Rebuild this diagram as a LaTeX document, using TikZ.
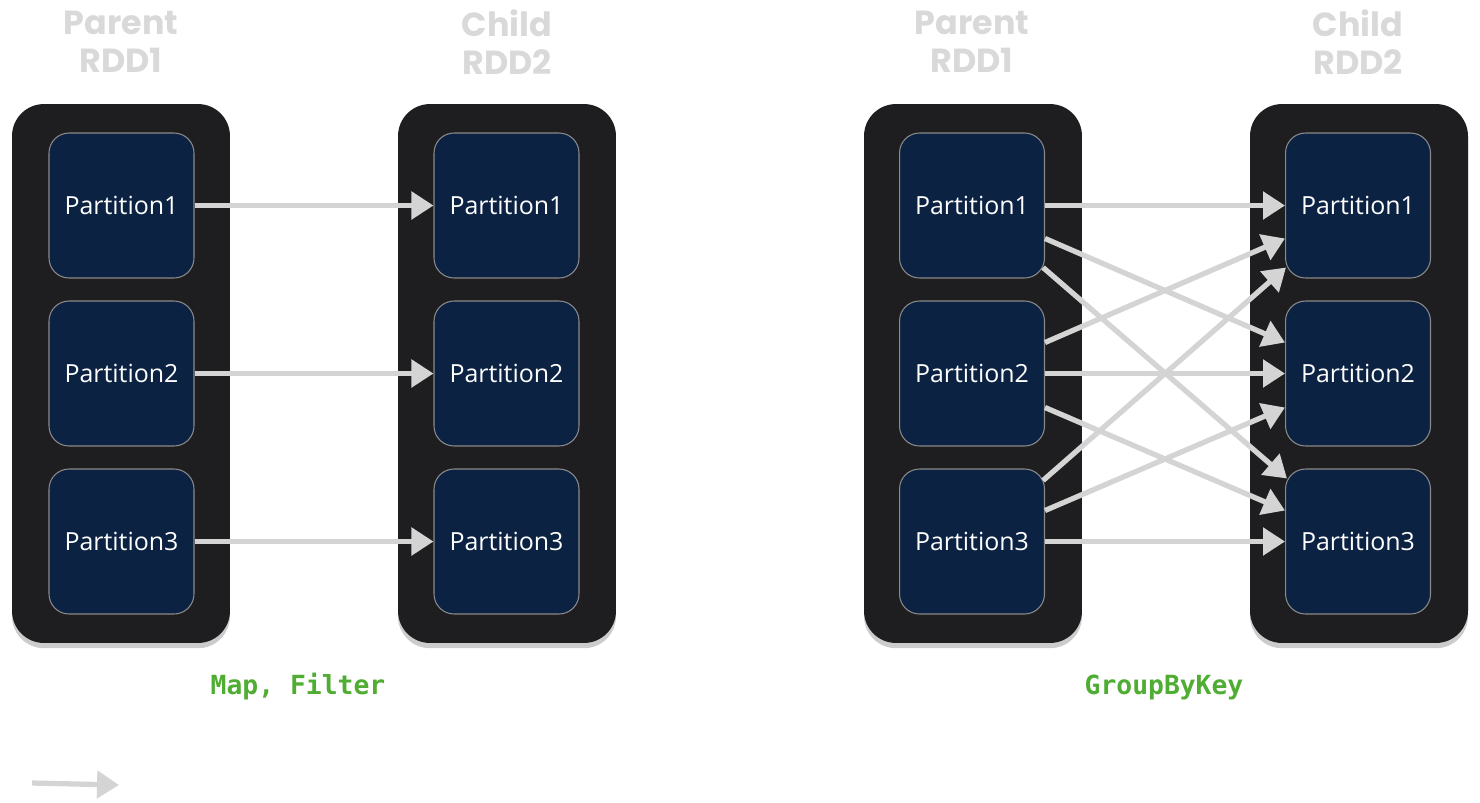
\documentclass[tikz,border=0pt]{standalone}
\usepackage{fontspec}
\setmainfont{Open Sans}
\newfontfamily\headfont{Poppins}
\setmonofont{DejaVu Sans Mono}
\usetikzlibrary{arrows.meta,shadows}
\definecolor{rddbox}{HTML}{1E1E20}
\definecolor{partfill}{HTML}{0C2242}
\definecolor{partline}{HTML}{8A8A8A}
\definecolor{flow}{HTML}{D4D4D4}
\definecolor{headgray}{HTML}{D9D9D9}
\definecolor{opgreen}{HTML}{4FAD33}
\tikzset{
  rdd/.style={fill=rddbox,rounded corners=0.64cm,minimum width=4.36cm,minimum height=10.78cm,inner sep=0pt,
    drop shadow={opacity=0.4,shadow xshift=0pt,shadow yshift=-3pt}},
  part/.style={fill=partfill,draw=partline,line width=0.6pt,rounded corners=0.4cm,minimum width=2.9cm,minimum height=2.9cm,inner sep=0pt,
    text=white,font=\fontsize{14.2}{16}\selectfont},
  head/.style={text=headgray,font=\headfont\bfseries\fontsize{19}{21.5}\selectfont,align=center},
  op/.style={text=opgreen,font=\ttfamily\bfseries\fontsize{15}{17}\selectfont},
  dep/.style={draw=flow,line width=3pt,-{Triangle[length=0.44cm,width=0.54cm]}}
}

\begin{document}
\begin{tikzpicture}[x=0.02cm,y=-0.02cm]
\useasboundingbox (0,0) rectangle (1480,802);

% narrow dependency
\node[head] (hpl) at (121,42) {Parent\\RDD1};
\node[head] (hcl) at (507,42) {Child\\RDD2};
\node[rdd] (rpl) at (121,373.5) {};
\node[rdd] (rcl) at (507,373.5) {};
\node[part] (pl1) at (121.5,205.5) {Partition1};
\node[part] (pl2) at (121.5,373.5) {Partition2};
\node[part] (pl3) at (121.5,541.5) {Partition3};
\node[part] (cl1) at (506.5,205.5) {Partition1};
\node[part] (cl2) at (506.5,373.5) {Partition2};
\node[part] (cl3) at (506.5,541.5) {Partition3};
\draw[dep] (pl1.east) -- (cl1.west);
\draw[dep] (pl2.east) -- (cl2.west);
\draw[dep] (pl3.east) -- (cl3.west);
\node[op] (opl) at (298,687) {Map, Filter};

% wide dependency
\node[head] (hpr) at (972,42) {Parent\\RDD1};
\node[head] (hcr) at (1358,42) {Child\\RDD2};
\node[rdd] (rpr) at (973,373.5) {};
\node[rdd] (rcr) at (1359,373.5) {};
\node[part] (pr1) at (972,205.5) {Partition1};
\node[part] (pr2) at (972,373.5) {Partition2};
\node[part] (pr3) at (972,541.5) {Partition3};
\node[part] (cr1) at (1358,205.5) {Partition1};
\node[part] (cr2) at (1358,373.5) {Partition2};
\node[part] (cr3) at (1358,541.5) {Partition3};

\draw[dep] (pr1.east) -- (cr1.west);
\draw[dep] ([yshift=-0.66cm]pr1.east) -- ([yshift=0.62cm]cr2.west);
\draw[dep] ([shift={(-2,62)}]pr1.east) -- ([shift={(2,-63)}]cr3.west);

\draw[dep] ([yshift=0.62cm]pr2.east) -- ([yshift=-0.66cm]cr1.west);
\draw[dep] (pr2.east) -- (cr2.west);
\draw[dep] ([yshift=-0.68cm]pr2.east) -- ([yshift=0.62cm]cr3.west);

\draw[dep] ([shift={(-2,-61)}]pr3.east) -- ([shift={(1,62)}]cr1.west);
\draw[dep] ([yshift=0.62cm]pr3.east) -- ([yshift=-0.68cm]cr2.west);
\draw[dep] (pr3.east) -- (cr3.west);
\node[op] (opr) at (1164,687) {GroupByKey};

% legend arrow
\coordinate (la) at (32,783);
\coordinate (lb) at (119,785);
\draw[dep] (la) -- (lb);
\end{tikzpicture}
\end{document}
